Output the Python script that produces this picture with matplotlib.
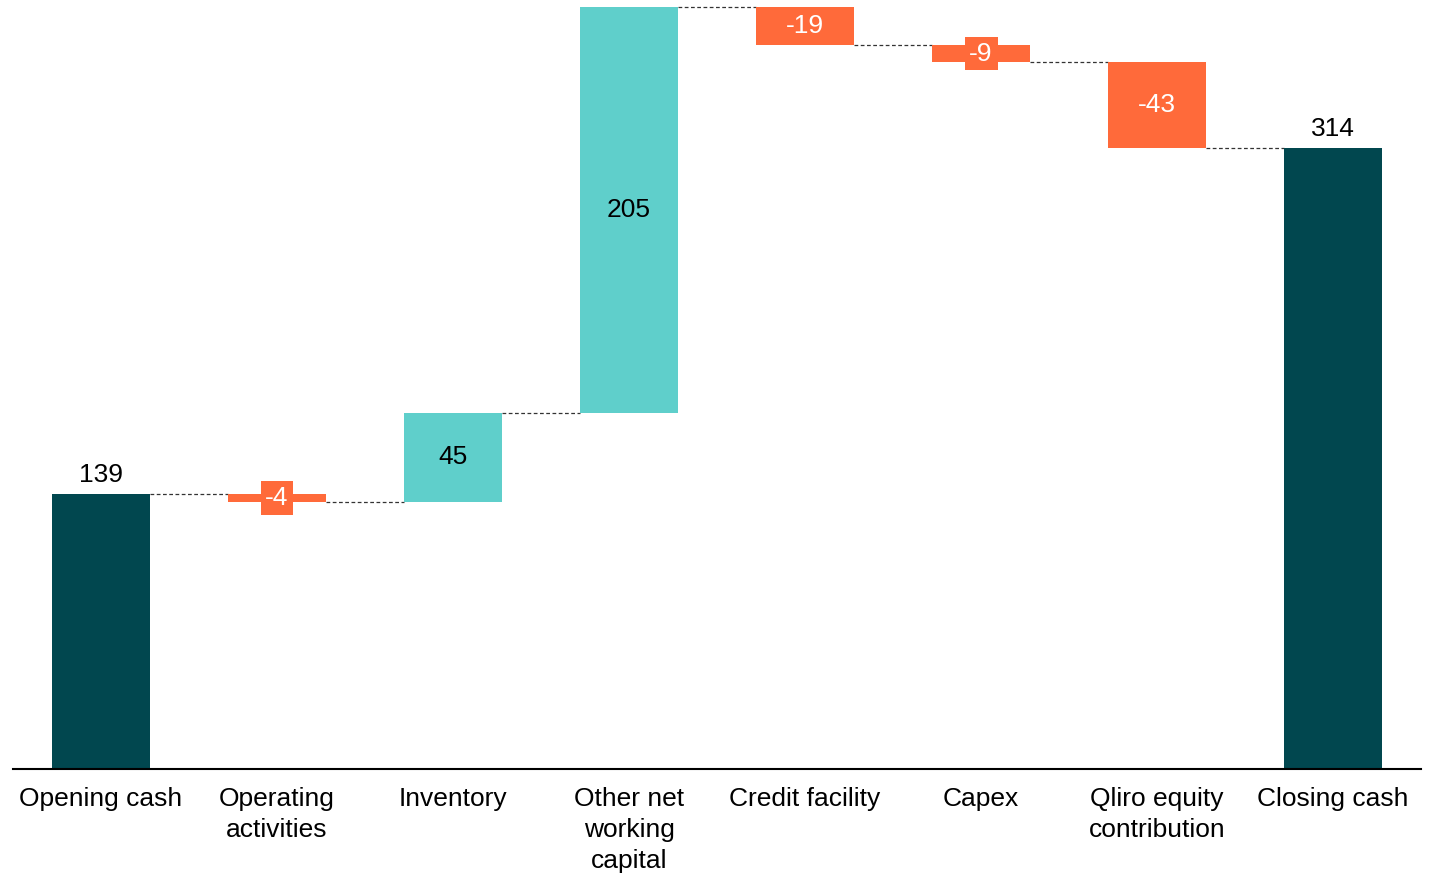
import numpy as np
import matplotlib
matplotlib.use("Agg")
from matplotlib import pyplot as plt

plt.rcParams['font.family'] = ['Liberation Sans', 'DejaVu Sans']

categories = ['Opening cash', 'Operating\nactivities', 'Inventory', 'Other net\nworking\ncapital',
              'Credit facility', 'Capex', 'Qliro equity\ncontribution', 'Closing cash']
values = [139, -4, 45, 205, -19, -9, -43, 314]
is_total = [True, False, False, False, False, False, False, True]

col_total = '#01474F'
col_up = '#5FCFCB'
col_down = '#FF6A3A'

fig = plt.figure(figsize=(14.35, 8.74), dpi=100)
ax = fig.add_axes([13 / 1435, 1 - 769 / 874, (1421 - 13) / 1435, (769 - 6) / 874])

width = 0.56
fs = 19
x = np.arange(len(values))
bottoms = []
tops = []
running = 0
for v, tot in zip(values, is_total):
    if tot:
        bottoms.append(0)
        tops.append(v)
        running = v
    else:
        lo, hi = sorted([running, running + v])
        bottoms.append(lo)
        tops.append(hi)
        running = running + v

for i, v in enumerate(values):
    if is_total[i]:
        c = col_total
    elif v >= 0:
        c = col_up
    else:
        c = col_down
    h = tops[i] - bottoms[i]
    ax.bar(x[i], h, width, bottom=bottoms[i], color=c, edgecolor='none', zorder=2)

    if is_total[i]:
        ax.text(x[i], tops[i] + 3.5, str(v), ha='center', va='bottom', fontsize=fs, color='black')
    elif v >= 0:
        ax.text(x[i], (tops[i] + bottoms[i]) / 2, str(v), ha='center', va='center',
                fontsize=fs, color='black')
    else:
        ax.text(x[i], (tops[i] + bottoms[i]) / 2, str(v), ha='center', va='center',
                fontsize=fs, color='white', zorder=3,
                bbox=dict(boxstyle='square,pad=0.18', fc=c, ec='none'))

# connector lines
level = 0
for i, v in enumerate(values[:-1]):
    level = v if is_total[i] else level + v
    ax.plot([x[i] + width / 2, x[i + 1] - width / 2], [level, level],
            ls=(0, (3, 2)), lw=0.9, color='#333333', zorder=1)

ax.set_xlim(-0.5, len(values) - 0.5)
ax.set_ylim(0, 385.5)
ax.set_xticks(x)
ax.set_xticklabels(categories, fontsize=fs, linespacing=1.38, va='top')
ax.tick_params(axis='x', length=0, pad=13)
ax.set_yticks([])
for s in ['top', 'right', 'left']:
    ax.spines[s].set_visible(False)
ax.spines['bottom'].set_linewidth(1.5)
ax.spines['bottom'].set_color('black')

fig.savefig('out.png', dpi=100)
